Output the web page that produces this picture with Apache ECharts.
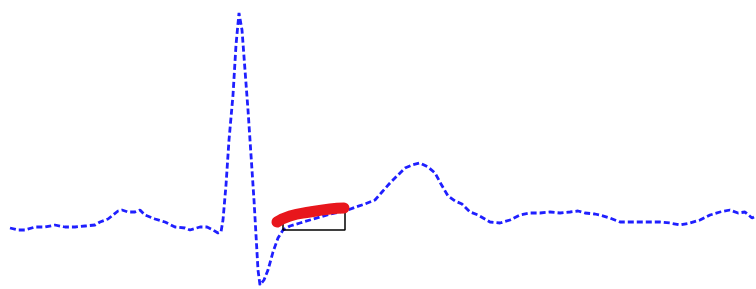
<!DOCTYPE html>
<html><head><meta charset="utf-8">
<script src="https://cdn.jsdelivr.net/npm/echarts@6/dist/echarts.min.js"></script>
<style>html,body{margin:0;padding:0;background:#fff}#c{width:756px;height:289px}</style>
</head><body><div id="c"></div>
<script>
// time (ms) and voltage (mV) of the ECG trace
var time = [10,18,25,35,45,55,65,75,85,95,100,108,113,118,122,128,135,140,145,155,165,175,185,190,200,207,213,218,221,223,226,229,233,236,239,242,245,248,251,254,256,258,260,264,268,273,278,283,290,300,310,320,330,340,348,356,365,375,382,390,398,405,412,420,428,435,441,448,455,462,470,478,490,500,510,520,530,540,550,560,570,578,585,595,600,610,620,630,640,650,660,670,680,690,700,710,720,730,738,745,752,756];
var voltage = [0.00,-0.02,-0.02,0.01,0.01,0.03,0.01,0.01,0.02,0.03,0.06,0.09,0.13,0.17,0.18,0.16,0.16,0.18,0.13,0.09,0.06,0.01,0.00,-0.02,0.01,0.01,-0.02,-0.05,-0.04,0.08,0.43,0.88,1.33,1.83,2.15,1.98,1.58,1.18,0.73,0.28,-0.07,-0.42,-0.57,-0.52,-0.42,-0.24,-0.10,-0.02,0.02,0.05,0.08,0.11,0.14,0.16,0.18,0.21,0.24,0.28,0.36,0.45,0.53,0.60,0.63,0.65,0.61,0.55,0.44,0.32,0.27,0.24,0.16,0.13,0.06,0.05,0.08,0.13,0.15,0.15,0.16,0.15,0.16,0.17,0.15,0.14,0.13,0.10,0.06,0.06,0.06,0.06,0.06,0.05,0.03,0.05,0.08,0.13,0.16,0.18,0.15,0.16,0.10,0.12];
// highlighted ST segment
var stTime = [277,290,310,330,344];
var stVoltage = [0.06,0.12,0.16,0.19,0.20];
// reference box (time, voltage)
var boxTime = [283,283,345,345];
var boxVoltage = [0.04,-0.02,-0.02,0.17];

function zip(a,b){return a.map(function(v,i){return [v,b[i]];});}
var chart = echarts.init(document.getElementById('c'));
chart.setOption({
  animation:false,
  grid:{left:0,right:0,top:0,bottom:0},
  xAxis:{type:'value',min:0,max:756,show:false},
  yAxis:{type:'value',min:-0.61,max:2.28,show:false},
  series:[
    {type:'line',data:zip(time,voltage),showSymbol:false,
     lineStyle:{color:'#1f1fff',width:2.8,type:[6,3]}},
    {type:'line',data:zip(boxTime,boxVoltage),showSymbol:false,
     lineStyle:{color:'#000',width:1.5}},
    {type:'line',data:zip(stTime,stVoltage),showSymbol:false,smooth:true,
     lineStyle:{color:'#e8161c',width:11,cap:'round'}}
  ]
});
</script></body></html>
